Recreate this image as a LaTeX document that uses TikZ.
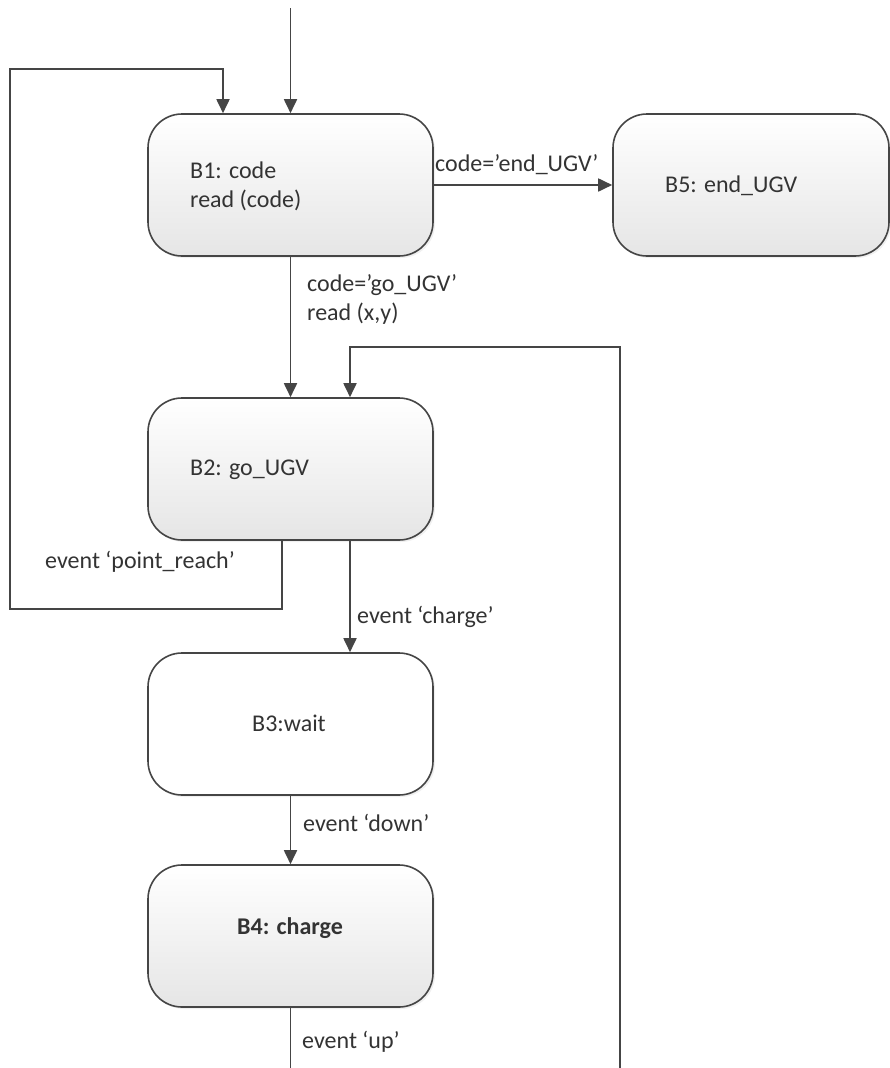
\documentclass[tikz,border=0pt]{standalone}
\usepackage{fontspec}
\setmainfont{Carlito}
\usetikzlibrary{arrows.meta,shadows}
\definecolor{ink}{HTML}{454545}
\definecolor{txt}{HTML}{333333}
\tikzset{
  state/.style={draw=ink, line width=1.6pt, rounded corners=34pt,
    minimum width=285pt, minimum height=142pt, inner sep=0pt,
    top color=white, bottom color=black!10,
    drop shadow={opacity=0.12, shadow xshift=2pt, shadow yshift=-2pt}},
  plainstate/.style={state, top color=white, bottom color=white},
  txt/.style={font=\fontsize{24}{29}\selectfont, text=txt, inner sep=0pt, anchor=west, align=left},
  flow/.style={draw=ink, line width=1.8pt, -{Triangle[length=14pt,width=13pt]}},
  line/.style={draw=ink, line width=1.8pt}
}
\begin{document}
\begin{tikzpicture}[x=1pt,y=-1pt]
\useasboundingbox (0,0) rectangle (890,1068);

% states
\node[state] (b1) at (290.5,185) {};
\node[state, minimum width=276pt] (b5) at (751,185) {};
\node[state] (b2) at (290.5,469) {};
\node[plainstate] (b3) at (290.5,724) {};
\node[state] (b4) at (290.5,936) {};

% state texts
\node[txt] (b1t) at (190,186) {B1: code\\read (code)};
\node[txt] (b5t) at (665,186) {B5: end\_UGV};
\node[txt] (b2t) at (190,470) {B2: go\_UGV};
\node[txt] (b3t) at (252,723) {B3:wait};
\node[txt, font=\fontsize{24}{29}\selectfont\bfseries] (b4t) at (237,928) {B4: charge};

% free ends
\coordinate (start) at (290.5,8);
\coordinate (exitdown) at (290.5,1068);
\coordinate (retup) at (620,1068);

% transitions
\draw[flow] (start) -- (b1.north);
\draw[flow] (b1.east) -- (b5.west);
\draw[flow] (b1.south) -- (b2.north);
\draw[flow] ([xshift=-8.5pt]b2.south) |- (10,609) |- (223,69) -- ([xshift=-67.5pt]b1.north);
\draw[flow] ([xshift=59.5pt]b2.south) -- ([xshift=59.5pt]b3.north);
\draw[flow] (b3.south) -- (b4.north);
\draw[line] (b4.south) -- (exitdown);
\draw[flow] (retup) |- (350,347) -- ([xshift=59.5pt]b2.north);

% transition labels
\node[txt] (l15) at (435,165) {code=’end\_UGV’};
\node[txt] (l12) at (307,299) {code=’go\_UGV’\\read (x,y)};
\node[txt] (lpr) at (45,562) {event ‘point\_reach’};
\node[txt] (lch) at (357,617) {event ‘charge’};
\node[txt] (ldn) at (303,823) {event ‘down’};
\node[txt] (lup) at (302,1042) {event ‘up’};
\end{tikzpicture}
\end{document}
